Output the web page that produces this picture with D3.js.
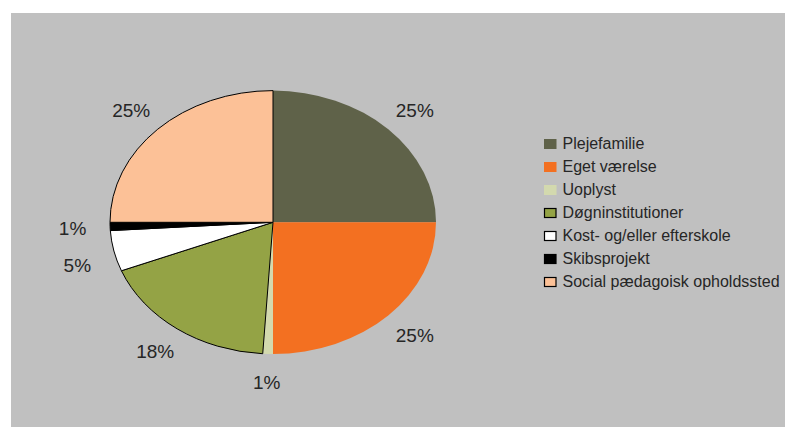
<!DOCTYPE html>
<html>
<head>
<meta charset="utf-8">
<script src="https://cdn.jsdelivr.net/npm/d3@7/dist/d3.min.js"></script>
<style>
  html, body { margin: 0; padding: 0; background: #ffffff; }
  svg { display: block; }
  text { font-family: "Liberation Sans", Arial, sans-serif; fill: #262626; }
</style>
</head>
<body>
<svg id="chart" width="785" height="427"></svg>
<script>
const categories = ["Plejefamilie", "Eget værelse", "Uoplyst", "Døgninstitutioner",
                    "Kost- og/eller efterskole", "Skibsprojekt", "Social pædagoisk opholdssted"];
const values = [25, 25, 1, 18, 5, 1, 25];
const labels = ["25%", "25%", "1%", "18%", "5%", "1%", "25%"];
const colors = ["#5f6249", "#f37021", "#d3d9ae", "#94a345", "#ffffff", "#000000", "#fcc197"];
const outlined = [false, false, false, true, true, true, true];

const W = 785, H = 427;
const svg = d3.select("#chart");

// plot background
svg.append("rect").attr("x", 11).attr("y", 13).attr("width", W - 11).attr("height", H - 13)
  .attr("fill", "#c0c0c0");

const cx = 273, cy = 222.3, rx = 163, ry = 131.7;
const data = categories.map((c, i) => ({ name: c, value: values[i], label: labels[i], color: colors[i], outlined: outlined[i] }));

const pie = d3.pie().sort(null).value(d => d.value);
const arcs = pie(data);
const arc = d3.arc().innerRadius(0).outerRadius(1);

const g = svg.append("g").attr("transform", `translate(${cx},${cy}) scale(${rx},${ry})`);

// draw non-outlined first, outlined on top
const order = arcs.slice().sort((a, b) => (a.data.outlined ? 1 : 0) - (b.data.outlined ? 1 : 0));
g.selectAll("path").data(order).join("path")
  .attr("d", arc)
  .attr("fill", d => d.data.color)
  .attr("stroke", d => d.data.outlined ? "#000" : "none")
  .attr("stroke-width", 1)
  .attr("stroke-linejoin", "round")
  .attr("vector-effect", "non-scaling-stroke");

// percentage labels (outside end, with simple vertical separation on each side)
const kx = 1.23, ky = 1.21, minGap = 37;
const lab = arcs.map(d => {
  const a = (d.startAngle + d.endAngle) / 2;
  return { text: d.data.label, x: cx + Math.sin(a) * rx * kx, y: cy - Math.cos(a) * ry * ky, side: Math.sin(a) < 0 ? "L" : "R" };
});
["L", "R"].forEach(side => {
  const s = lab.filter(l => l.side === side).sort((a, b) => a.y - b.y);
  for (let i = 1; i < s.length; i++) {
    if (s[i].y - s[i - 1].y < minGap && Math.abs(s[i].x - s[i - 1].x) < 40) s[i].y = s[i - 1].y + minGap;
  }
});
svg.append("g").selectAll("text").data(lab).join("text")
  .attr("x", d => d.x)
  .attr("y", d => d.y + 7.2)
  .attr("text-anchor", "middle")
  .attr("font-size", 19)
  .text(d => d.text);

// legend
const legend = svg.append("g").attr("transform", "translate(544,139)");
const rowH = 23;
const rows = legend.selectAll("g").data(data).join("g")
  .attr("transform", (d, i) => `translate(0,${i * rowH})`);
rows.append("rect")
  .attr("x", d => d.outlined ? 0.5 : 0).attr("y", d => d.outlined ? 0.5 : 0)
  .attr("width", d => d.outlined ? 11.5 : 12.5).attr("height", d => d.outlined ? 9 : 10)
  .attr("fill", d => d.color)
  .attr("stroke", d => d.outlined ? "#000" : "none")
  .attr("stroke-width", 1.2);
rows.append("text")
  .attr("x", 18.5).attr("y", 9.5)
  .attr("font-size", 16)
  .text(d => d.name);
</script>
</body>
</html>
